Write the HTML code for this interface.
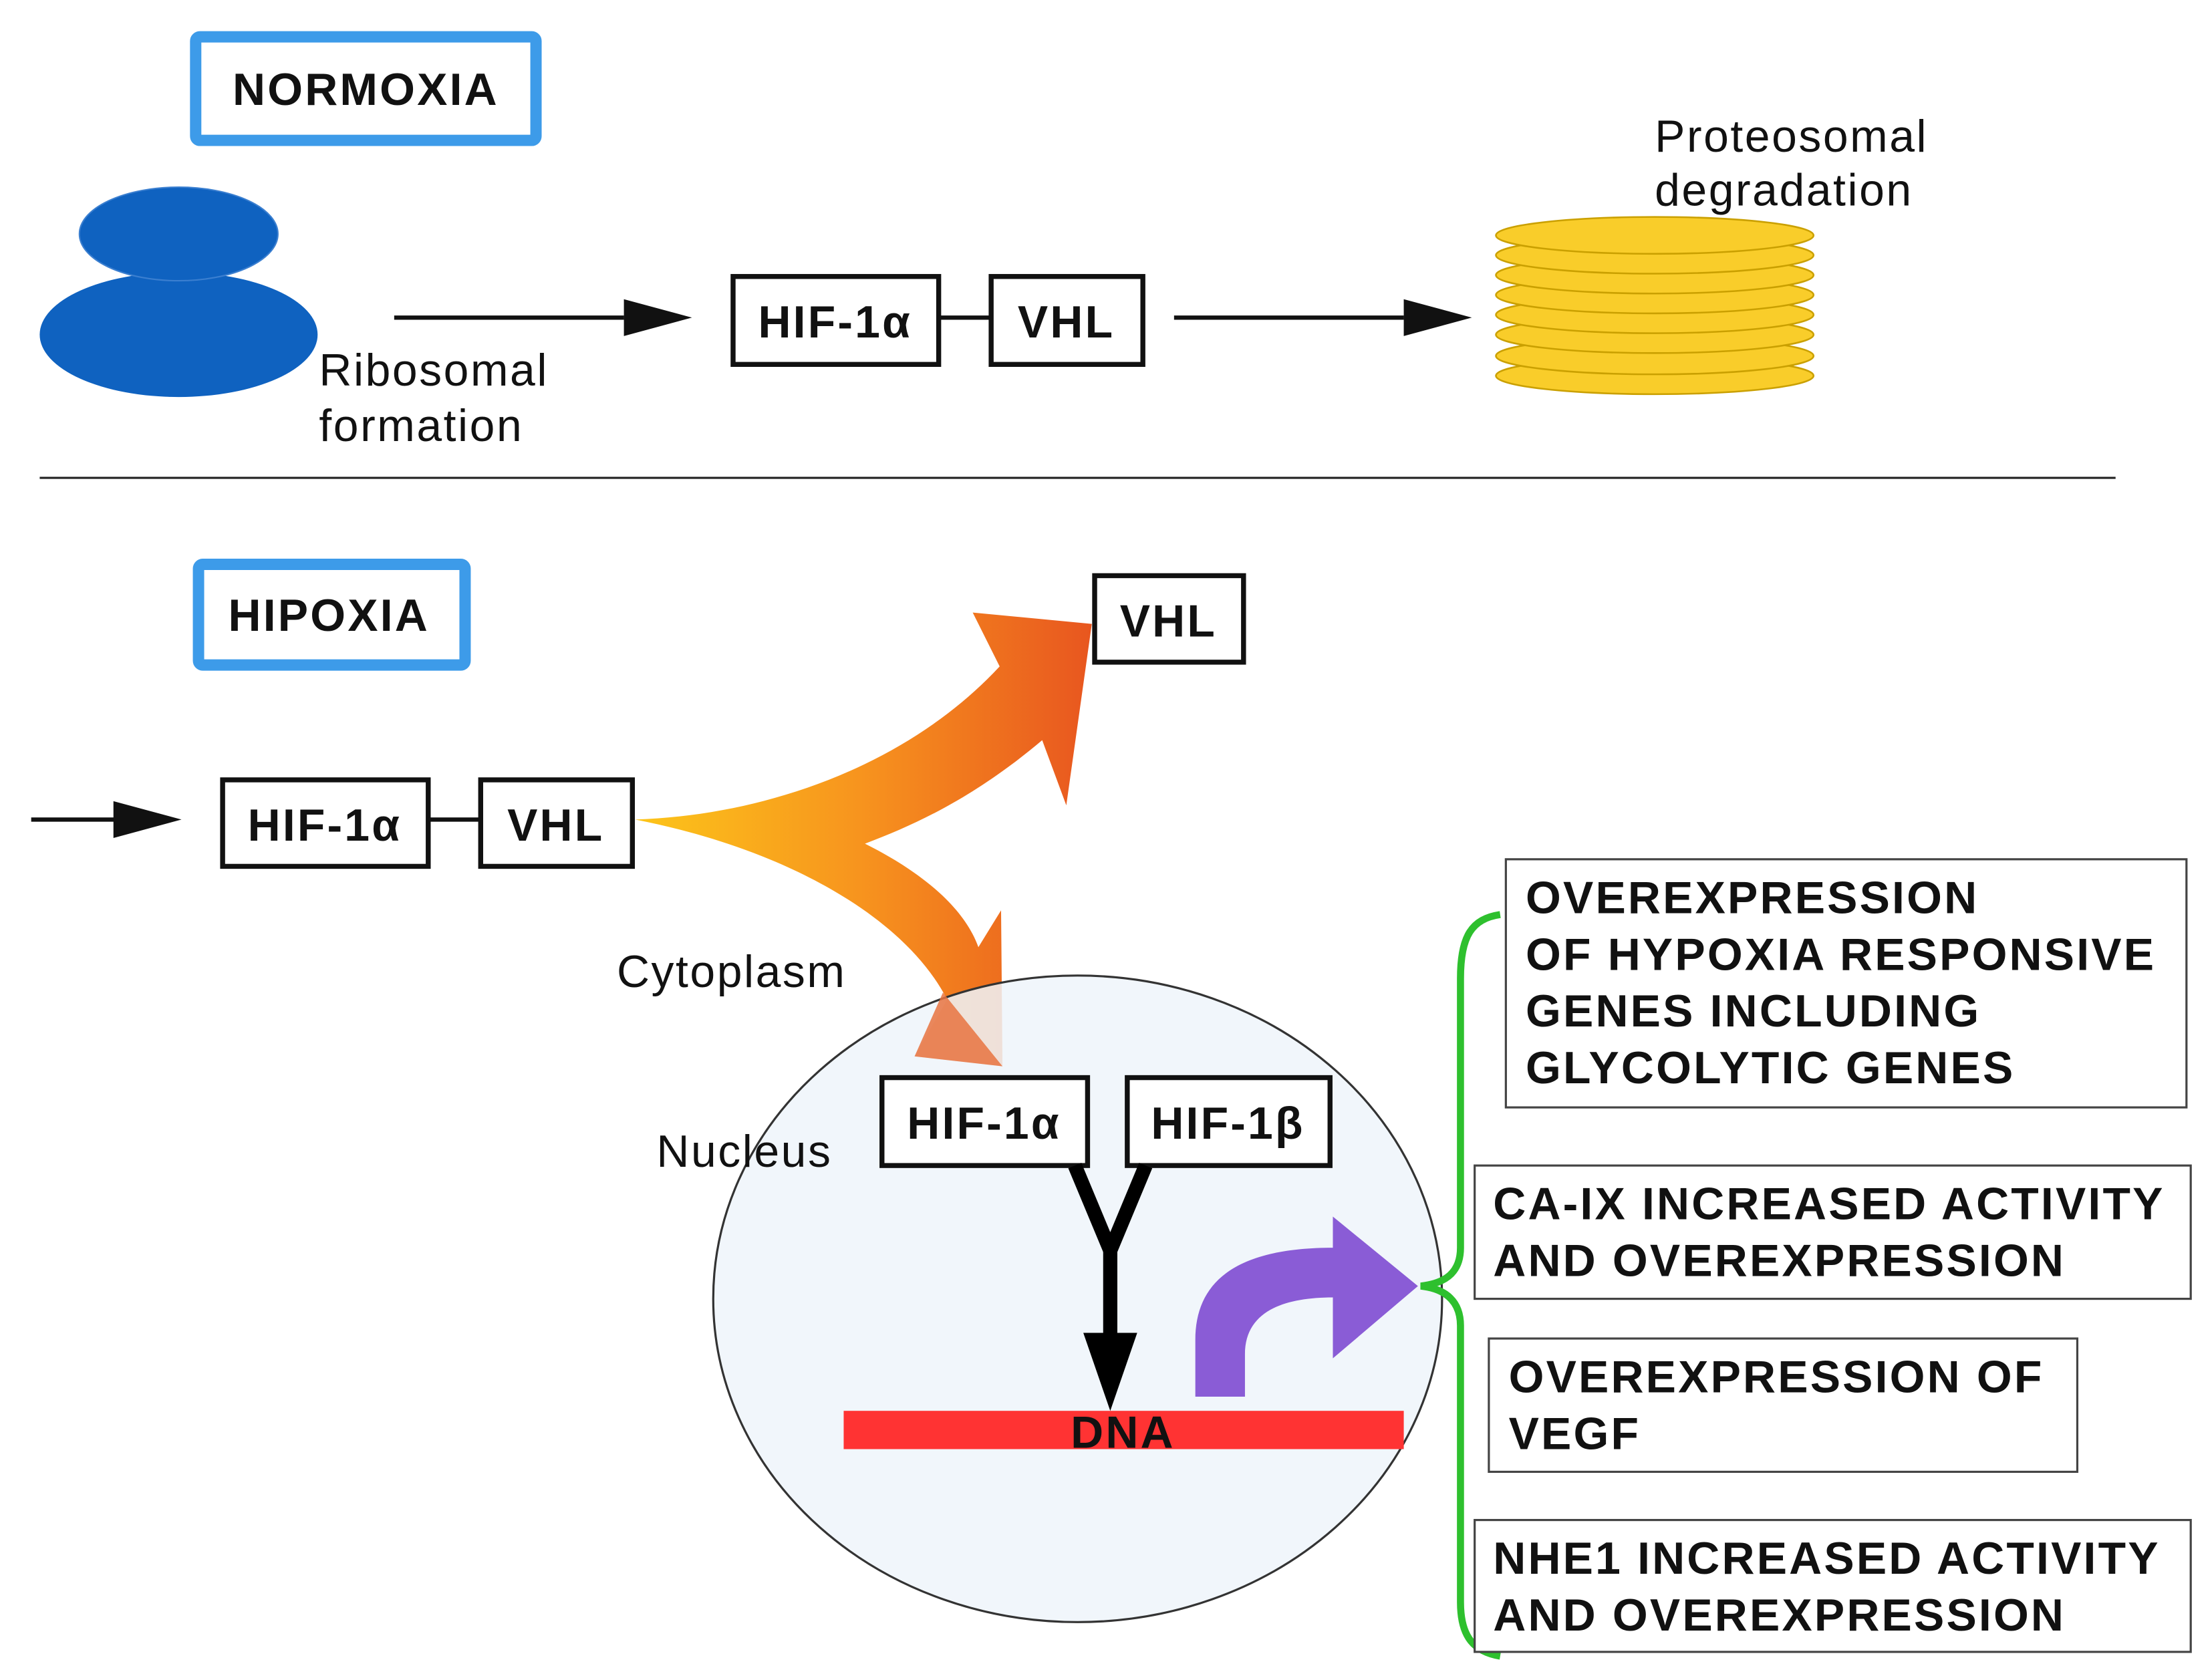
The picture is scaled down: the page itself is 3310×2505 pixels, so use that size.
<!DOCTYPE html>
<html><head><meta charset="utf-8"><style>
html,body{margin:0;padding:0;background:#fff;}
svg{display:block;}
text{font-family:"Liberation Sans",Arial,sans-serif;}
.b{font-weight:bold;font-size:32px;fill:#111;letter-spacing:1.5px;}
.n{font-size:32px;fill:#111;letter-spacing:1.2px;}
.bx{fill:#fff;stroke:#111;stroke-width:3.5;}
.rb{fill:#fff;stroke:#444;stroke-width:1.5;}
</style></head><body>
<svg width="3310" height="2505" viewBox="0 0 1560 1180.6" preserveAspectRatio="none" xmlns="http://www.w3.org/2000/svg">
<defs>
<linearGradient id="og" x1="448" y1="0" x2="770" y2="0" gradientUnits="userSpaceOnUse">
<stop offset="0" stop-color="#fcc51a"/><stop offset="0.5" stop-color="#f7931e"/><stop offset="1" stop-color="#e8561f"/></linearGradient>
</defs>
<rect width="1560" height="1181" fill="#fff"/>
<rect x="138" y="26" width="240" height="73" fill="#fff" stroke="#3d9be9" stroke-width="8" rx="3"/>
<text x="258" y="74" class="b" text-anchor="middle">NORMOXIA</text>
<ellipse cx="126" cy="236" rx="98" ry="44" fill="#0f62c0"/>
<ellipse cx="126" cy="165" rx="70" ry="33" fill="#0f62c0" stroke="#3b7fd0" stroke-width="1"/>
<text x="225" y="272" class="n">Ribosomal</text>
<text x="225" y="311" class="n">formation</text>
<line x1="278" y1="224" x2="440" y2="224" stroke="#111" stroke-width="3"/>
<path d="M440,211 L488,224 L440,237 Z" fill="#111"/>
<rect x="517" y="195" width="145" height="62" class="bx"/>
<text x="589" y="238" class="b" text-anchor="middle">HIF-1α</text>
<line x1="662" y1="224" x2="699" y2="224" stroke="#111" stroke-width="3"/>
<rect x="699" y="195" width="107" height="62" class="bx"/>
<text x="752" y="238" class="b" text-anchor="middle">VHL</text>
<line x1="828" y1="224" x2="990" y2="224" stroke="#111" stroke-width="3"/>
<path d="M990,211 L1038,224 L990,237 Z" fill="#111"/>
<g fill="#f9cd2a" stroke="#caa000" stroke-width="1.2">
<ellipse cx="1167" cy="265" rx="112" ry="13"/>
<ellipse cx="1167" cy="251" rx="112" ry="13"/>
<ellipse cx="1167" cy="236" rx="112" ry="13"/>
<ellipse cx="1167" cy="222" rx="112" ry="13"/>
<ellipse cx="1167" cy="208" rx="112" ry="13"/>
<ellipse cx="1167" cy="194" rx="112" ry="13"/>
<ellipse cx="1167" cy="180" rx="112" ry="13"/>
<ellipse cx="1167" cy="166" rx="112" ry="13"/>
</g>
<text x="1167" y="107" class="n">Proteosomal</text>
<text x="1167" y="145" class="n">degradation</text>
<line x1="28" y1="337" x2="1492" y2="337" stroke="#222" stroke-width="1.5"/>
<rect x="140" y="398" width="188" height="71" fill="#fff" stroke="#3d9be9" stroke-width="8" rx="3"/>
<text x="232" y="445" class="b" text-anchor="middle">HIPOXIA</text>
<line x1="22" y1="578" x2="82" y2="578" stroke="#111" stroke-width="3"/>
<path d="M80,565 L128,578 L80,591 Z" fill="#111"/>
<path d="M448,578 C540,575 640,540 705,470 L686,432 L770,440 L752,568 L735,522 C690,560 650,580 610,595 C650,615 680,640 690,668 L706,642 L707,752 L645,745 L668,705 C640,650 560,600 448,578 Z" fill="url(#og)"/>
<rect x="157" y="550" width="145" height="61" class="bx"/>
<text x="229" y="593" class="b" text-anchor="middle">HIF-1α</text>
<line x1="302" y1="578" x2="339" y2="578" stroke="#111" stroke-width="3"/>
<rect x="339" y="550" width="107" height="61" class="bx"/>
<text x="392" y="593" class="b" text-anchor="middle">VHL</text>
<rect x="772" y="406" width="105" height="61" class="bx"/>
<text x="824" y="449" class="b" text-anchor="middle">VHL</text>
<text x="435" y="696" class="n">Cytoplasm</text>
<ellipse cx="760" cy="916" rx="257" ry="228" fill="#eef4fa" fill-opacity="0.85" stroke="#333" stroke-width="1.5"/>
<path d="M665,700 L707,752 L645,745 Z" fill="#e8733f" opacity="0.85"/>
<text x="463" y="823" class="n">Nucleus</text>
<rect x="622" y="760" width="145" height="62" class="bx"/>
<text x="694" y="803" class="b" text-anchor="middle">HIF-1α</text>
<rect x="795" y="760" width="143" height="62" class="bx"/>
<text x="866" y="803" class="b" text-anchor="middle">HIF-1β</text>
<path d="M758,822 L783,882 L808,822" fill="none" stroke="#000" stroke-width="10"/>
<line x1="783" y1="880" x2="783" y2="945" stroke="#000" stroke-width="10"/>
<path d="M764,940 L783,995 L802,940 Z" fill="#000"/>
<rect x="595" y="995" width="395" height="27" fill="#f33"/>
<text x="792" y="1021" class="b" text-anchor="middle">DNA</text>
<path d="M843,985 L843,945 C843,905 870,880 940,880 L940,858 L1000,907 L940,958 L940,915 C905,915 878,925 878,955 L878,985 Z" fill="#8a5cd6"/>
<path d="M1058,645 C1038,648 1030,660 1030,690 L1030,880 C1030,897 1020,905 1002,907 C1020,909 1030,918 1030,935 L1030,1130 C1030,1155 1040,1165 1058,1168" fill="none" stroke="#2ec02e" stroke-width="5"/>
<rect x="1062" y="606" width="480" height="175" class="rb"/>
<text x="1076" y="644" class="b">OVEREXPRESSION</text>
<text x="1076" y="684" class="b">OF HYPOXIA RESPONSIVE</text>
<text x="1076" y="724" class="b">GENES INCLUDING</text>
<text x="1076" y="764" class="b">GLYCOLYTIC GENES</text>
<rect x="1040" y="822" width="505" height="94" class="rb"/>
<text x="1053" y="860" class="b">CA-IX INCREASED ACTIVITY</text>
<text x="1053" y="900" class="b">AND OVEREXPRESSION</text>
<rect x="1050" y="944" width="415" height="94" class="rb"/>
<text x="1064" y="982" class="b">OVEREXPRESSION OF</text>
<text x="1064" y="1022" class="b">VEGF</text>
<rect x="1040" y="1072" width="505" height="93" class="rb"/>
<text x="1053" y="1110" class="b">NHE1 INCREASED ACTIVITY</text>
<text x="1053" y="1150" class="b">AND OVEREXPRESSION</text>
</svg>
</body></html>
